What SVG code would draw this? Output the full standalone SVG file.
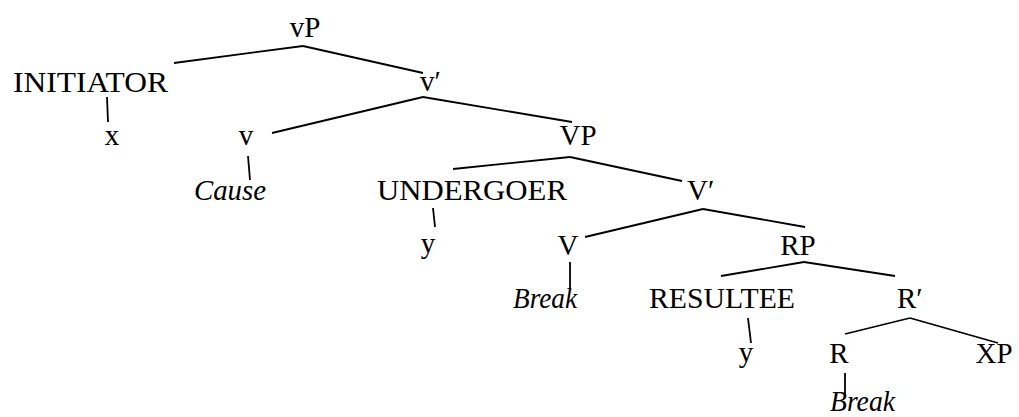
<svg xmlns="http://www.w3.org/2000/svg" width="1019" height="417" viewBox="0 0 1019 417">
<style>
text{font-family:"Liberation Serif","DejaVu Serif",serif;font-size:29px;fill:#000}
.it{font-style:italic}
.m{text-anchor:middle}
#edges line{stroke:#000;stroke-width:1.8;stroke-linecap:butt}
</style>
<rect width="1019" height="417" fill="#fff"/>
<g id="edges">
<line x1="303" y1="46" x2="174" y2="63"/>
<line x1="303" y1="46" x2="423" y2="73"/>
<line x1="107" y1="97" x2="108" y2="122"/>
<line x1="423" y1="97" x2="272" y2="133"/>
<line x1="423" y1="97" x2="572" y2="122"/>
<line x1="248" y1="156" x2="250" y2="180"/>
<line x1="570" y1="157" x2="453" y2="169"/>
<line x1="570" y1="157" x2="682" y2="181"/>
<line x1="433" y1="208" x2="435" y2="227"/>
<line x1="703" y1="209" x2="585" y2="237"/>
<line x1="703" y1="209" x2="805" y2="227"/>
<line x1="570" y1="262" x2="570" y2="290"/>
<line x1="804" y1="262" x2="721" y2="276"/>
<line x1="804" y1="262" x2="895" y2="276"/>
<line x1="748" y1="318" x2="751" y2="343"/>
<line x1="910" y1="318" x2="845" y2="334"/>
<line x1="910" y1="318" x2="998" y2="343"/>
<line x1="845" y1="373" x2="845" y2="395"/>
</g>
<g id="n-vP"><text class="m" x="305" y="37">vP</text></g>
<g id="n-initiator"><text x="13" y="92" textLength="155" lengthAdjust="spacingAndGlyphs">INITIATOR</text></g>
<g id="n-vbar"><text x="420" y="91">v′</text></g>
<g id="n-x"><text class="m" x="112" y="145">x</text></g>
<g id="n-v"><text class="m" x="246" y="145">v</text></g>
<g id="n-VP"><text class="m" x="578" y="145">VP</text></g>
<g id="n-cause"><text class="it" x="194" y="200" textLength="72" lengthAdjust="spacingAndGlyphs">Cause</text></g>
<g id="n-undergoer"><text x="377" y="200" textLength="190" lengthAdjust="spacingAndGlyphs">UNDERGOER</text></g>
<g id="n-Vbar"><text x="687" y="200">V′</text></g>
<g id="n-y1"><text class="m" x="428" y="253">y</text></g>
<g id="n-V"><text class="m" x="568" y="255">V</text></g>
<g id="n-RP"><text class="m" x="798" y="255">RP</text></g>
<g id="n-break1"><text class="it" x="513" y="308" textLength="64" lengthAdjust="spacingAndGlyphs">Break</text></g>
<g id="n-resultee"><text x="649" y="308" textLength="146" lengthAdjust="spacingAndGlyphs">RESULTEE</text></g>
<g id="n-Rbar"><text x="897" y="308">R′</text></g>
<g id="n-y2"><text class="m" x="746" y="362">y</text></g>
<g id="n-R"><text class="m" x="839" y="363">R</text></g>
<g id="n-XP"><text class="m" x="994" y="363">XP</text></g>
<g id="n-break2"><text class="it" x="830" y="411" textLength="65" lengthAdjust="spacingAndGlyphs">Break</text></g>
</svg>
